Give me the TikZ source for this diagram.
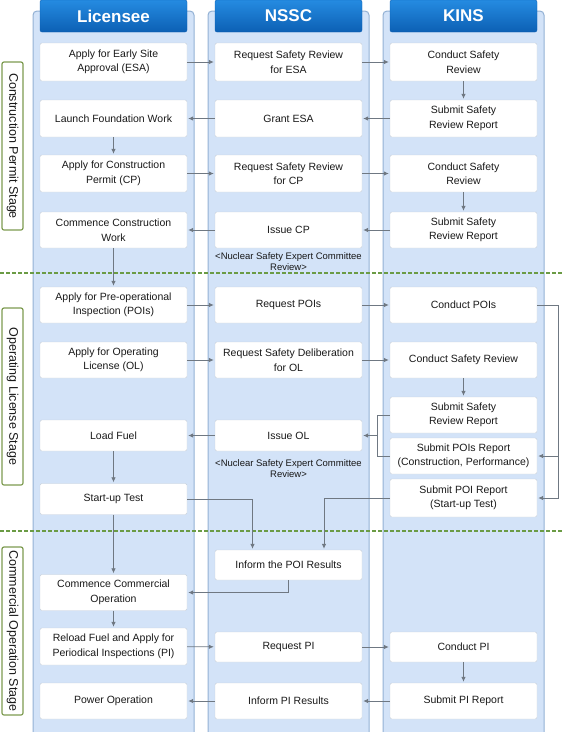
\documentclass[tikz,border=0pt]{standalone}
\usepackage{fontspec}
\setmainfont{Liberation Sans}
\usetikzlibrary{positioning,calc,arrows.meta}
\definecolor{lanefill}{HTML}{D3E3F8}
\definecolor{laneline}{HTML}{93B1D4}
\definecolor{headtop}{HTML}{258BE1}
\definecolor{headbot}{HTML}{0C60B4}
\definecolor{boxline}{HTML}{C8D0DA}
\definecolor{flowgrey}{HTML}{6F7882}
\definecolor{stagegreen}{HTML}{7D9B50}
\definecolor{phasegreen}{HTML}{6B9B45}
\tikzset{font=\fontsize{10.5}{14.5}\selectfont}

\begin{document}
\begin{tikzpicture}[x=1pt, y=-1pt]
	\useasboundingbox (0, 0) rectangle (563, 732);
	\begin{scope}
		\tikzstyle{lane}=[fill=lanefill, draw=laneline, line width=1pt, rounded corners=4pt]
		\tikzstyle{head}=[top color=headtop, bottom color=headbot, draw=headbot, rounded corners=2pt, minimum width=147pt, minimum height=32pt, text=white, font=\fontsize{17}{20}\selectfont\bfseries, inner sep=0pt]
		\tikzstyle{stepbox}=[fill=white, draw=boxline, rounded corners=1.5pt, minimum width=147pt, minimum height=37pt, align=center, inner sep=1pt, text=black!90]
		\tikzstyle{note}=[align=center, font=\fontsize{9.5}{11}\selectfont, inner sep=1pt, text=black!90]
		\tikzstyle{stage}=[fill=white, draw=stagegreen, line width=1.2pt, rounded corners=2pt, rotate=-90, minimum height=21pt, font=\fontsize{12.5}{14}\selectfont, inner sep=0pt, text=black!90]
		\tikzstyle{phase}=[draw=phasegreen, line width=1.1pt, dash pattern=on 3.5pt off 2.5pt]
		\tikzstyle{flow}=[draw=flowgrey, line width=0.8pt, -{Latex[length=5pt, width=4.5pt]}, shorten >=1pt]
		\tikzstyle{link}=[draw=flowgrey, line width=0.8pt]

		% swim lanes
		\draw [lane] (33, 740) -- (33, 11) -- (194, 11) -- (194, 740);
		\draw [lane] (208, 740) -- (208, 11) -- (369, 11) -- (369, 740);
		\draw [lane] (383, 740) -- (383, 11) -- (544, 11) -- (544, 740);

		\node [head] (hlic) at (113.5, 16) {Licensee};
		\node [head] (hnssc) at (288.5, 16) {NSSC};
		\node [head] (hkins) at (463.5, 16) {KINS};

		% stages
		\node [stage, minimum width=168pt] (scp) at (12.5, 146) {Construction Permit Stage};
		\node [stage, minimum width=177pt] (sol) at (12.5, 396.5) {Operating License Stage};
		\node [stage, minimum width=168pt] (sco) at (12.5, 631) {Commercial Operation Stage};

		\draw [phase] (0, 273) -- (563, 273);
		\draw [phase] (0, 531) -- (563, 531);

		% licensee
		\node [stepbox, minimum height=38pt] (appesa) at (113.5, 62) {Apply for Early Site\\Approval (ESA)};
		\node [stepbox] (launch) at (113.5, 118.5) {Launch Foundation Work};
		\node [stepbox] (appcp) at (113.5, 173.5) {Apply for Construction\\Permit (CP)};
		\node [stepbox, minimum height=36pt] (commence) at (113.5, 230) {Commence Construction\\Work};
		\node [stepbox, minimum height=36pt] (apppoi) at (113.5, 305) {Apply for Pre-operational\\Inspection (POIs)};
		\node [stepbox, minimum height=36pt] (appol) at (113.5, 360) {Apply for Operating\\License (OL)};
		\node [stepbox, minimum height=31pt] (fuel) at (113.5, 435.5) {Load Fuel};
		\node [stepbox, minimum height=31pt] (startup) at (113.5, 499) {Start-up Test};
		\node [stepbox, minimum height=36pt] (commercial) at (113.5, 592.5) {Commence Commercial\\Operation};
		\node [stepbox] (reload) at (113.5, 646.5) {Reload Fuel and Apply for\\Periodical Inspections (PI)};
		\node [stepbox, minimum height=36pt] (power) at (113.5, 701) {Power Operation};

		% nssc
		\node [stepbox, minimum height=38pt] (reqesa) at (288.5, 62) {Request Safety Review\\for ESA};
		\node [stepbox] (grant) at (288.5, 118.5) {Grant ESA};
		\node [stepbox] (reqcp) at (288.5, 173.5) {Request Safety Review\\for CP};
		\node [stepbox, minimum height=36pt] (issuecp) at (288.5, 230) {Issue CP};
		\node [note] (notecp) at (288.5, 262) {<Nuclear Safety Expert Committee\\Review>};
		\node [stepbox, minimum height=36pt] (reqpoi) at (288.5, 305) {Request POIs};
		\node [stepbox, minimum height=36pt] (reqol) at (288.5, 360) {Request Safety Deliberation\\for OL};
		\node [stepbox, minimum height=31pt] (issueol) at (288.5, 435.5) {Issue OL};
		\node [note] (noteol) at (288.5, 469) {<Nuclear Safety Expert Committee\\Review>};
		\node [stepbox, minimum height=30pt] (inform) at (288.5, 565) {Inform the POI Results};
		\node [stepbox, minimum height=30pt] (reqpi) at (288.5, 647) {Request PI};
		\node [stepbox, minimum height=36pt] (informpi) at (288.5, 701) {Inform PI Results};

		% kins
		\node [stepbox, minimum height=38pt] (revesa) at (463.5, 62) {Conduct Safety\\Review};
		\node [stepbox] (repesa) at (463.5, 118.5) {Submit Safety\\Review Report};
		\node [stepbox] (revcp) at (463.5, 173.5) {Conduct Safety\\Review};
		\node [stepbox, minimum height=36pt] (repcp) at (463.5, 230) {Submit Safety\\Review Report};
		\node [stepbox, minimum height=36pt] (condpoi) at (463.5, 305) {Conduct POIs};
		\node [stepbox, minimum height=36pt] (revol) at (463.5, 360) {Conduct Safety Review};
		\node [stepbox, minimum height=36pt] (repol) at (463.5, 415) {Submit Safety\\Review Report};
		\node [stepbox, minimum height=36pt] (reppoi) at (463.5, 456) {Submit POIs Report\\(Construction, Performance)};
		\node [stepbox, minimum height=38pt] (reppoist) at (463.5, 498) {Submit POI Report\\(Start-up Test)};
		\node [stepbox, minimum height=30pt] (condpi) at (463.5, 647) {Conduct PI};
		\node [stepbox, minimum height=36pt] (reppi) at (463.5, 701) {Submit PI Report};

		% construction permit
		\draw [flow] (appesa) to (reqesa);
		\draw [flow] (reqesa) to (revesa);
		\draw [flow] (revesa) to (repesa);
		\draw [flow] (repesa) to (grant);
		\draw [flow] (grant) to (launch);
		\draw [flow] (launch) to (appcp);
		\draw [flow] (appcp) to (reqcp);
		\draw [flow] (reqcp) to (revcp);
		\draw [flow] (revcp) to (repcp);
		\draw [flow] (repcp) to (issuecp);
		\draw [flow] (issuecp) to (commence);
		\draw [flow] (commence) to (apppoi);

		% operating license
		\draw [flow] (apppoi) to (reqpoi);
		\draw [flow] (reqpoi) to (condpoi);
		\draw [flow] (appol) to (reqol);
		\draw [flow] (reqol) to (revol);
		\draw [flow] (revol) to (repol);
		\draw [link] (repol.west) -- ++(-12, 0) |- (reppoi.west);
		\coordinate (brk) at ($(repol.west)!0.5!(reppoi.west) + (-12, 0)$);
		\draw [flow] (brk) to (brk -| issueol.east);
		\draw [flow] (condpoi.east) -| ($(reppoist.east) + (21, 0)$) -- (reppoist.east);
		\draw [flow] ($(reppoi.east) + (21, 0)$) -- (reppoi.east);
		\draw [flow] (issueol) to (fuel);
		\draw [flow] (fuel) to (startup);
		\draw [flow] (startup.east) -| ($(inform.north) + (-36, 0)$);
		\draw [flow] (reppoist.west) -| ($(inform.north) + (35.5, 0)$);

		% commercial operation
		\draw [flow] (inform.south) |- (commercial.east);
		\draw [flow] (startup) to (commercial);
		\draw [flow] (commercial) to (reload);
		\draw [flow] (reload) to (reqpi);
		\draw [flow] (reqpi) to (condpi);
		\draw [flow] (condpi) to (reppi);
		\draw [flow] (reppi) to (informpi);
		\draw [flow] (informpi) to (power);
	\end{scope}
\end{tikzpicture}
\end{document}
